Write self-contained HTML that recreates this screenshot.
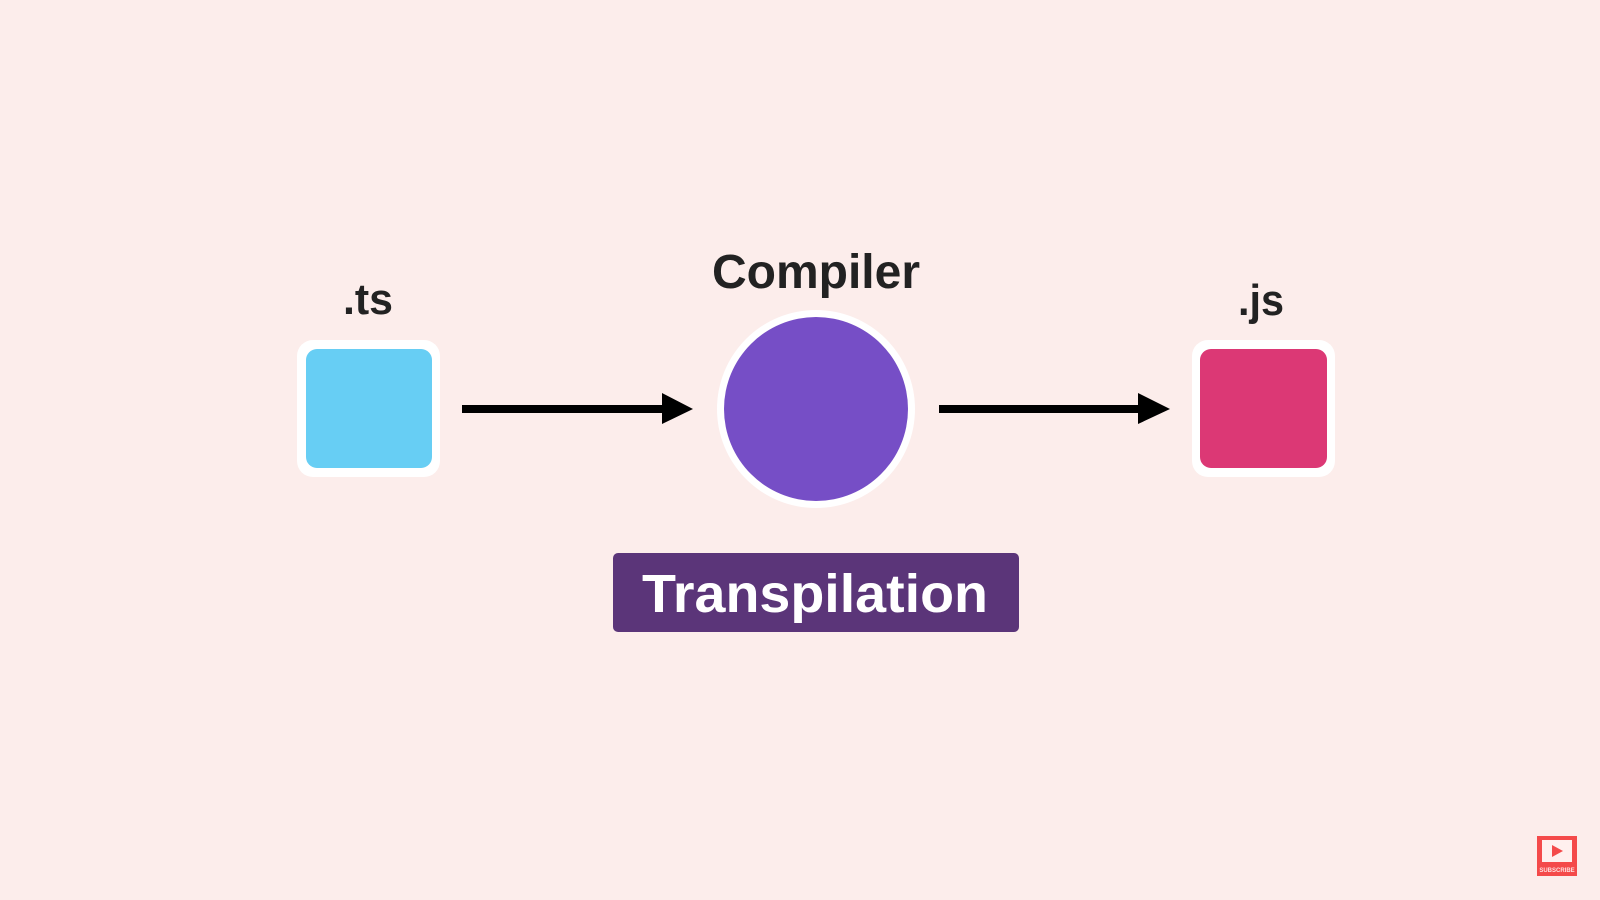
<!DOCTYPE html>
<html><head><meta charset="utf-8"><style>
html,body{margin:0;padding:0;background:#fcedeb;}
svg{display:block}
</style></head><body>
<svg width="1600" height="900" viewBox="0 0 1600 900" xmlns="http://www.w3.org/2000/svg">
<rect width="1600" height="900" fill="#fcedeb"/>
<!-- ts box -->
<rect x="297" y="340" width="143" height="137" rx="16" fill="#ffffff"/>
<rect x="306" y="349" width="126" height="119" rx="11" fill="#67cef4"/>
<text x="368" y="314" font-family="Liberation Sans, sans-serif" font-size="44" font-weight="bold" fill="#222" text-anchor="middle" textLength="50" lengthAdjust="spacingAndGlyphs">.ts</text>
<!-- arrow 1 -->
<rect x="462" y="405" width="204" height="8" fill="#000"/>
<polygon points="662,393 693,409 662,424" fill="#000"/>
<!-- circle -->
<circle cx="816" cy="409" r="99" fill="#ffffff"/>
<circle cx="816" cy="409" r="92" fill="#764ec6"/>
<text x="816" y="288" font-family="Liberation Sans, sans-serif" font-size="48" font-weight="bold" fill="#222" text-anchor="middle" textLength="208" lengthAdjust="spacingAndGlyphs">Compiler</text>
<!-- arrow 2 -->
<rect x="939" y="405" width="200" height="8" fill="#000"/>
<polygon points="1138,393 1170,409 1138,424" fill="#000"/>
<!-- js box -->
<rect x="1192" y="340" width="143" height="137" rx="16" fill="#ffffff"/>
<rect x="1200" y="349" width="127" height="119" rx="11" fill="#dc3875"/>
<text x="1261" y="315" font-family="Liberation Sans, sans-serif" font-size="44" font-weight="bold" fill="#222" text-anchor="middle" textLength="46" lengthAdjust="spacingAndGlyphs">.js</text>
<!-- transpilation -->
<rect x="613" y="553" width="406" height="79" rx="5" fill="#5b3579"/>
<text x="815" y="612" font-family="Liberation Sans, sans-serif" font-size="54" font-weight="bold" fill="#ffffff" text-anchor="middle" textLength="346" lengthAdjust="spacingAndGlyphs">Transpilation</text>
<!-- subscribe -->
<rect x="1537" y="836" width="40" height="40" fill="#f44a4a"/>
<rect x="1542" y="840" width="30" height="22" fill="#fff0ee"/>
<polygon points="1552,845 1563,851 1552,857" fill="#f44a4a"/>
<text x="1557" y="872" font-family="Liberation Sans, sans-serif" font-size="6" font-weight="bold" fill="#ffe0e0" text-anchor="middle">SUBSCRIBE</text>
</svg>
</body></html>
